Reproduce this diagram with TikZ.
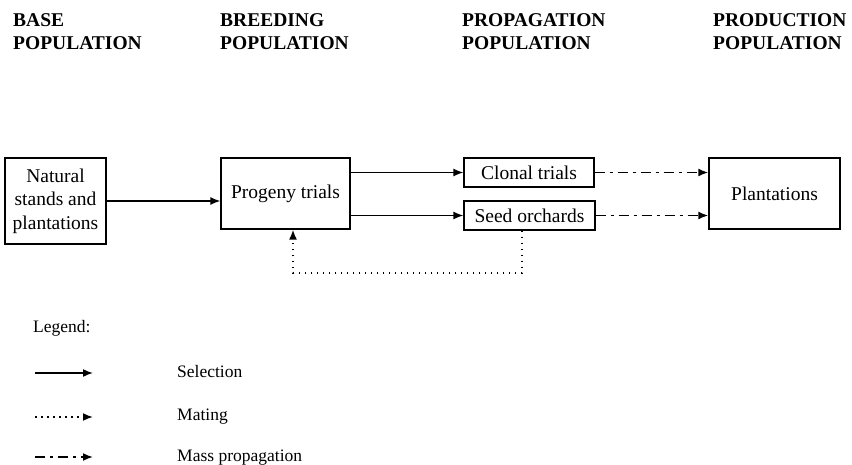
\documentclass[tikz,border=0pt]{standalone}
\usepackage{fontspec}
\setmainfont{Liberation Serif}
\usetikzlibrary{arrows.meta}
\tikzset{
  box/.style={draw, line width=1.3pt, inner sep=0pt, align=center,
    font=\fontsize{19.5}{23.5}\selectfont},
  head/.style={anchor=north west, inner sep=0pt, align=left,
    font=\fontsize{19.5}{23}\selectfont\bfseries},
  legtext/.style={anchor=base west, inner sep=0pt,
    font=\fontsize{17.5}{21}\selectfont},
  tip/.style={-{Latex[length=10pt,width=8pt]}},
  selection/.style={tip, line width=1.5pt},
  mating/.style={tip, line width=1.7pt, dash pattern=on 1.7pt off 4.3pt},
  masspro/.style={tip, line width=1.7pt, dash pattern=on 10pt off 5pt on 3pt off 5pt},
}
\begin{document}
\begin{tikzpicture}[x=1pt,y=-1pt]
\useasboundingbox (0,0) rectangle (852,465);
% headings
\node[head] (h1) at (13,13.5) {BASE\\POPULATION};
\node[head] (h2) at (220,13.5) {BREEDING\\POPULATION};
\node[head] (h3) at (462,13.5) {PROPAGATION\\POPULATION};
\node[head] (h4) at (713,13.5) {PRODUCTION\\POPULATION};
% boxes
\node[box, minimum width=101pt, minimum height=86pt] (nat) at (55.5,201) {Natural\\stands and\\plantations};
\node[box, minimum width=129pt, minimum height=71pt] (prog) at (285.5,193.5) {Progeny trials};
\node[box, minimum width=130pt, minimum height=29pt] (clon) at (529,172.5) {Clonal trials};
\node[box, minimum width=131pt, minimum height=29pt] (seed) at (529.5,215.5) {Seed orchards};
\node[box, minimum width=131pt, minimum height=71pt] (plant) at (774.5,193.5) {Plantations};
% connectors
\draw[selection] (nat.east) -- (prog.west |- nat.east);
\draw[selection] (prog.east |- clon.west) -- (clon.west);
\draw[selection] (prog.east |- seed.west) -- (seed.west);
\draw[masspro] (clon.east) -- (plant.west |- clon.east);
\draw[masspro] (seed.east) -- (plant.west |- seed.east);
\coordinate (d1) at (522,273);
\coordinate (d2) at (293,273);
\draw[mating] (seed.south -| d1) -- (d1) -- (d2) -- (prog.south -| d2);
% legend
\node[legtext] (leg) at (33,333) {Legend:};
\coordinate (la1) at (35,373); \coordinate (lb1) at (93,373);
\coordinate (la2) at (35,417); \coordinate (lb2) at (93,417);
\coordinate (la3) at (35,457); \coordinate (lb3) at (93,457);
\draw[selection] (la1) -- (lb1);
\draw[mating] (la2) -- (lb2);
\draw[masspro] (la3) -- (lb3);
\node[legtext] (t1) at (177,377) {Selection};
\node[legtext] (t2) at (177,420) {Mating};
\node[legtext] (t3) at (177,461) {Mass propagation};
\end{tikzpicture}
\end{document}
